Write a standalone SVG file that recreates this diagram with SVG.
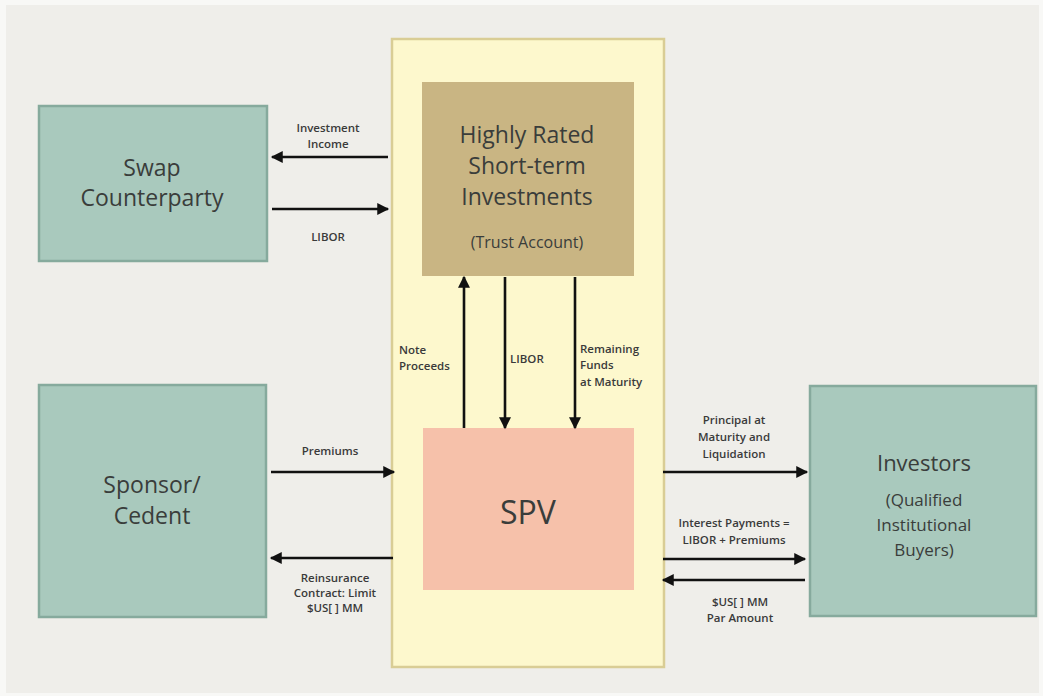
<svg xmlns="http://www.w3.org/2000/svg" width="1043" height="696" viewBox="0 0 1043 696">
<defs>
<marker id="ah" viewBox="0 0 10 10" refX="9" refY="5" markerWidth="5.4" markerHeight="4.6" orient="auto" markerUnits="strokeWidth"><path d="M0,0 L10,5 L0,10 z" fill="#111"/></marker>
</defs>
<style>
.teal{fill:#a9c9bd;stroke:#86aa9d;stroke-width:2.5}
.big{font-family:"Open Sans","Noto Sans",sans-serif;font-size:23px;fill:#3a3d3b;text-anchor:middle}
.lbl{font-family:"Open Sans","Noto Sans",sans-serif;font-size:11.5px;font-weight:600;fill:#3a3a3a}
.c{text-anchor:middle}
.arr{stroke:#111;stroke-width:2.6;fill:none;marker-end:url(#ah)}
</style>
<rect width="1043" height="696" fill="#f8f8f6"/>
<rect x="6" y="5" width="1033" height="688" fill="#efeeea"/>
<g id="container"><rect x="392" y="39" width="272" height="628" fill="#fdf8cd" stroke="#d9cd95" stroke-width="2.5"/></g>
<g id="swap"><rect class="teal" x="39" y="106" width="228" height="155"/>
<text class="big" x="152" y="176">Swap</text><text class="big" x="152" y="206">Counterparty</text></g>
<g id="trust"><rect x="422" y="82" width="212" height="194" fill="#c9b583"/>
<text class="big" x="527" y="143">Highly Rated</text><text class="big" x="527" y="174">Short-term</text><text class="big" x="527" y="205">Investments</text>
<text class="big" x="527" y="248" style="font-size:16px">(Trust Account)</text></g>
<g id="spv"><rect x="423" y="428" width="211" height="162" fill="#f6c1aa"/>
<text class="big" x="528" y="524" style="font-size:32px">SPV</text></g>
<g id="sponsor"><rect class="teal" x="39" y="385" width="227" height="232"/>
<text class="big" x="152" y="493">Sponsor/</text><text class="big" x="152" y="524">Cedent</text></g>
<g id="investors"><rect class="teal" x="810" y="386" width="226" height="230"/>
<text class="big" x="924" y="471" style="font-size:22px">Investors</text>
<text class="big" x="924" y="506" style="font-size:17px">(Qualified</text><text class="big" x="924" y="531" style="font-size:17px">Institutional</text><text class="big" x="924" y="556" style="font-size:17px">Buyers)</text></g>
<g id="connectors">
<line class="arr" x1="388" y1="157" x2="272" y2="157"/>
<line class="arr" x1="272" y1="209" x2="388" y2="209"/>
<line class="arr" x1="464" y1="428" x2="464" y2="277"/>
<line class="arr" x1="505" y1="277" x2="505" y2="428"/>
<line class="arr" x1="575" y1="277" x2="575" y2="428"/>
<line class="arr" x1="271" y1="472" x2="394" y2="472"/>
<line class="arr" x1="393" y1="558" x2="271" y2="558"/>
<line class="arr" x1="663" y1="472" x2="807" y2="472"/>
<line class="arr" x1="663" y1="559" x2="805" y2="559"/>
<line class="arr" x1="805" y1="580" x2="663" y2="580"/>
</g>
<g id="labels">
<text class="lbl c" x="328" y="132">Investment</text><text class="lbl c" x="328" y="148">Income</text>
<text class="lbl c" x="328" y="241">LIBOR</text>
<text class="lbl" x="399" y="354">Note</text><text class="lbl" x="399" y="370">Proceeds</text>
<text class="lbl" x="510" y="363">LIBOR</text>
<text class="lbl" x="580" y="353">Remaining</text><text class="lbl" x="580" y="369">Funds</text><text class="lbl" x="580" y="386">at Maturity</text>
<text class="lbl c" x="330" y="455">Premiums</text>
<text class="lbl c" x="335" y="582">Reinsurance</text><text class="lbl c" x="335" y="597">Contract: Limit</text><text class="lbl c" x="335" y="612">$US[ ] MM</text>
<text class="lbl c" x="734" y="424">Principal at</text><text class="lbl c" x="734" y="441">Maturity and</text><text class="lbl c" x="734" y="458">Liquidation</text>
<text class="lbl c" x="734" y="527">Interest Payments =</text><text class="lbl c" x="734" y="544">LIBOR + Premiums</text>
<text class="lbl c" x="740" y="606">$US[ ] MM</text><text class="lbl c" x="740" y="622">Par Amount</text>
</g>
</svg>
